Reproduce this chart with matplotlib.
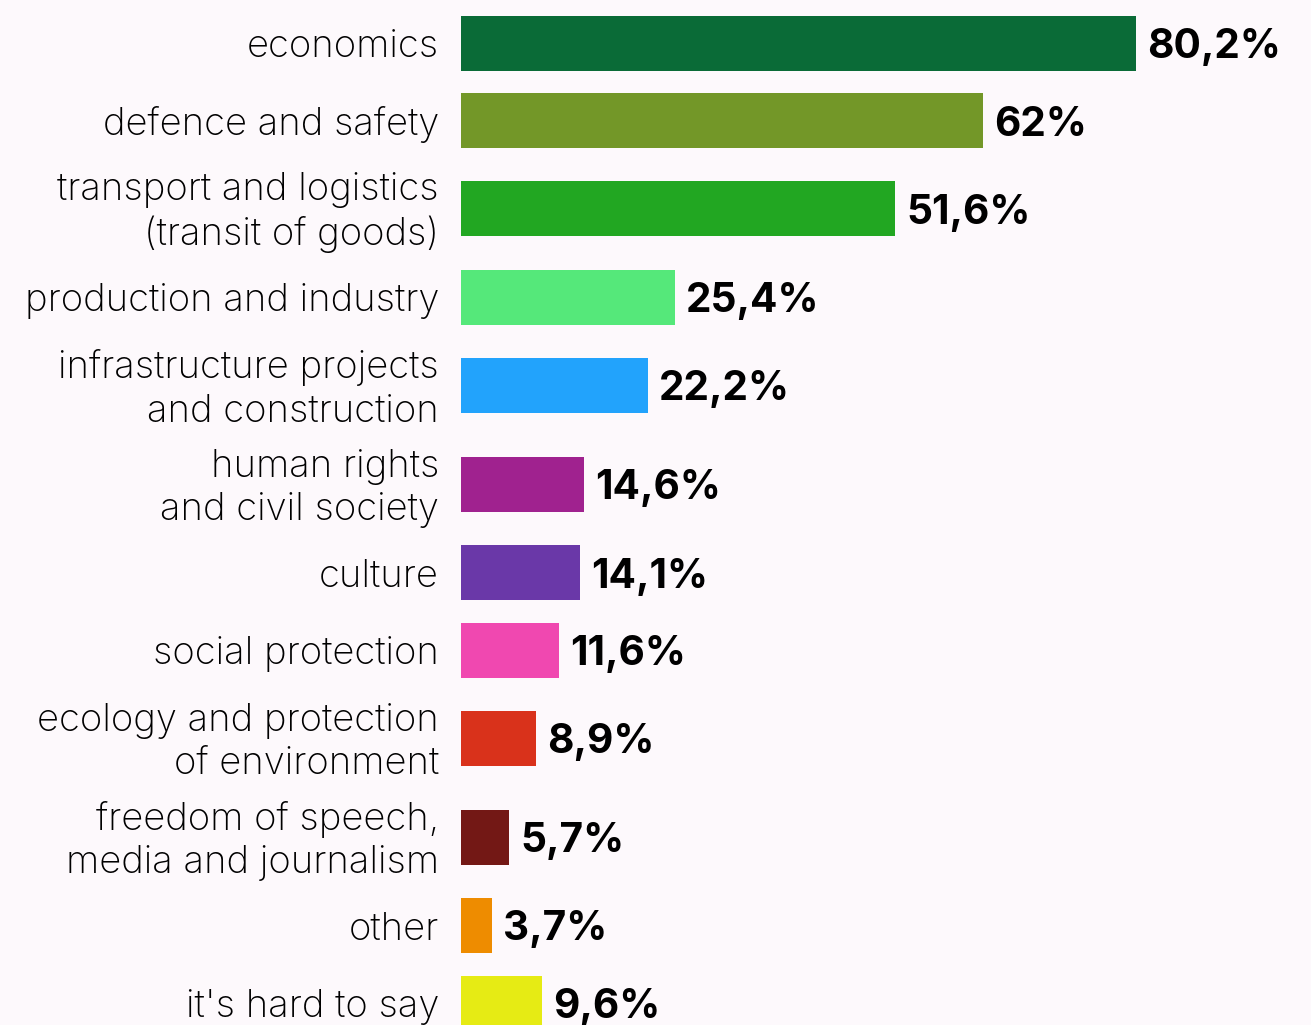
import matplotlib.pyplot as plt
import numpy as np

categories = [
    "economics",
    "defence and safety",
    "transport and logistics\n(transit of goods)",
    "production and industry",
    "infrastructure projects\nand construction",
    "human rights\nand civil society",
    "culture",
    "social protection",
    "ecology and protection\nof environment",
    "freedom of speech,\nmedia and journalism",
    "other",
    "it's hard to say",
]
values = [80.2, 62, 51.6, 25.4, 22.2, 14.6, 14.1, 11.6, 8.9, 5.7, 3.7, 9.6]
value_labels = ["80,2%", "62%", "51,6%", "25,4%", "22,2%", "14,6%", "14,1%",
                "11,6%", "8,9%", "5,7%", "3,7%", "9,6%"]
colors = ["#0a6b37", "#739728", "#22a722", "#55e87a", "#22a3fc", "#a0228f",
          "#6a38a8", "#f048b0", "#d9321b", "#731815", "#ee8c00", "#e6eb14"]

bg = "#fdf9fc"
W, H = 1311, 1025
x0 = 461          # left edge of bars in px
px_per_pct = 8.416
bar_h = 55

# row layout: rows with two-line labels take more room
heights = [55 if "\n" not in c else 76.5 for c in categories]
gap = 22.5
centers = [43.0]
for i in range(1, len(categories)):
    centers.append(centers[-1] + gap + (heights[i - 1] + heights[i]) / 2)

fig = plt.figure(figsize=(W / 100, H / 100), dpi=100, facecolor=bg)
ax = fig.add_axes([x0 / W, 0, (W - x0) / W, 1])
ax.set_facecolor(bg)
ax.set_xlim(0, (W - x0) / px_per_pct)
ax.set_ylim(H, 0)
ax.axis("off")

ax.barh(centers, values, height=bar_h, color=colors)

for y, v, lab, cat in zip(centers, values, value_labels, categories):
    ax.annotate(lab, (v, y), xytext=(11, -15), textcoords="offset pixels",
                ha="left", va="baseline", fontsize=29.2, fontweight="bold",
                family="Inter", color="#000000")
    ax.annotate(cat, (0, y), xytext=(-22, -4), textcoords="offset pixels",
                ha="right", va="center", multialignment="right",
                fontsize=27.5, fontweight="light", family="Inter",
                color="#000000", linespacing=1.25)

fig.savefig("out.png", dpi=100, facecolor=bg)
